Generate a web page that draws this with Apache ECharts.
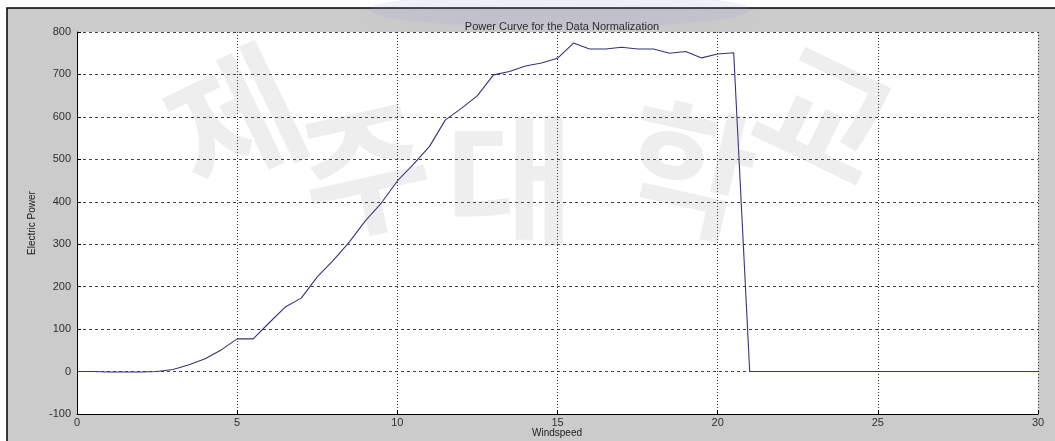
<!DOCTYPE html>
<html>
<head>
<meta charset="utf-8">
<script src="https://cdn.jsdelivr.net/npm/echarts@6/dist/echarts.min.js"></script>
<style>
  html, body { margin: 0; padding: 0; background: #ffffff; }
  #chart { width: 1055px; height: 441px; }
</style>
</head>
<body>
<div id="chart"></div>
<script>
// Wind speed samples (m/s) and normalised electric power output
const windspeed = [
  0, 0.5, 1, 1.5, 2, 2.5, 3, 3.5, 4, 4.5,
  5, 5.5, 6, 6.5, 7, 7.5, 8, 8.5, 9, 9.5,
  10, 10.5, 11, 11.5, 12, 12.5, 13, 13.5, 14, 14.5,
  15, 15.5, 16, 16.5, 17, 17.5, 18, 18.5, 19, 19.5,
  20, 20.5, 21, 21.5, 22, 22.5, 23, 23.5, 24, 24.5,
  25, 25.5, 26, 26.5, 27, 27.5, 28, 28.5, 29, 29.5, 30
];
const power = [
  0, 0, -1, -1, -1, 0, 5, 16, 30, 51,
  77, 77, 115, 152, 173, 223, 262, 305, 355, 397,
  449, 488, 530, 593, 620, 650, 699, 707, 720, 727,
  738, 774, 760, 760, 764, 760, 760, 750, 754, 739,
  748, 751, 0, 0, 0, 0, 0, 0, 0, 0,
  0, 0, 0, 0, 0, 0, 0, 0, 0, 0, 0
];
const xTicks = [0, 5, 10, 15, 20, 25, 30];
const yTicks = [-100, 0, 100, 200, 300, 400, 500, 600, 700, 800];

const titleText = 'Power Curve for the Data Normalization';
const xName = 'Windspeed';
const yName = 'Electric Power';
const stampChars = ['제', '주', '대', '학', '교'];

const FONT = 'Liberation Sans';
const chart = echarts.init(document.getElementById('chart'));

// Faint, soft seal lettering laid over the figure
const stampPos = [
  { x: 235, y: 120, r: 0.45 },
  { x: 365, y: 170, r: 0.22 },
  { x: 510, y: 180, r: 0.0 },
  { x: 690, y: 170, r: -0.22 },
  { x: 825, y: 115, r: -0.45 }
];
const stamp = stampChars.map((ch, i) => ({
  type: 'text',
  x: stampPos[i].x,
  y: stampPos[i].y,
  rotation: stampPos[i].r,
  z: 100,
  silent: true,
  style: {
    text: ch,
    font: 'bold 140px "Noto Sans CJK KR"',
    fill: 'rgba(120,120,120,0.13)',
    align: 'center',
    verticalAlign: 'middle',
    shadowBlur: 20,
    shadowColor: 'rgba(120,120,120,0.35)'
  }
}));

const option = {
  animation: false,
  backgroundColor: '#ffffff',
  graphic: [
    {
      type: 'rect',
      z: -10,
      silent: true,
      shape: { x: 7, y: 8, width: 1060, height: 440 },
      style: { fill: '#cbcbcb', stroke: '#000000', lineWidth: 1.5 }
    },
    {
      type: 'ellipse',
      z: 99,
      silent: true,
      shape: { cx: 560, cy: 10, rx: 190, ry: 18 },
      style: { fill: 'rgba(150,150,210,0.12)', shadowBlur: 24, shadowColor: 'rgba(150,150,210,0.35)' }
    },
    // x-axis caption, centred under the plot
    {
      type: 'text',
      x: 557,
      y: 433,
      z: 10,
      silent: true,
      style: {
        text: xName,
        font: '10px "Liberation Sans"',
        fill: '#202020',
        align: 'center',
        verticalAlign: 'middle'
      }
    },
    ...stamp
  ],
  title: {
    text: titleText,
    left: 557,
    top: 16,
    textAlign: 'center',
    textStyle: { fontFamily: FONT, fontSize: 11, fontWeight: 'normal', color: '#202020' }
  },
  grid: {
    left: 77, right: 17, top: 32, bottom: 27,
    containLabel: false,
    outerBoundsMode: 'none',
    show: true, backgroundColor: '#ffffff', borderWidth: 0
  },
  xAxis: {
    type: 'value',
    min: xTicks[0],
    max: xTicks[xTicks.length - 1],
    interval: 5,
    axisLine: { show: true, onZero: false, lineStyle: { color: '#000000', width: 1 } },
    axisTick: { show: true, inside: true, length: 4, lineStyle: { color: '#000000' } },
    axisLabel: { fontFamily: FONT, fontSize: 11, color: '#303030', margin: 3 },
    splitLine: { show: true, lineStyle: { color: '#333333', width: 1, type: [1, 2] } }
  },
  yAxis: {
    type: 'value',
    min: yTicks[0],
    max: yTicks[yTicks.length - 1],
    interval: 100,
    name: yName,
    nameLocation: 'middle',
    nameGap: 40,
    nameTextStyle: { fontFamily: FONT, fontSize: 10, color: '#202020' },
    axisLine: { show: true, lineStyle: { color: '#000000', width: 1 } },
    axisTick: { show: true, inside: true, length: 4, lineStyle: { color: '#000000' } },
    axisLabel: { fontFamily: FONT, fontSize: 11, color: '#303030', margin: 6 },
    splitLine: { show: true, lineStyle: { color: '#444444', width: 1, type: [3, 3] } }
  },
  series: [{
    type: 'line',
    data: windspeed.map((w, i) => [w, power[i]]),
    showSymbol: false,
    symbol: 'none',
    lineStyle: { color: '#34347c', width: 1.1 },
    z: 5
  }]
};
chart.setOption(option);
</script>
</body>
</html>
